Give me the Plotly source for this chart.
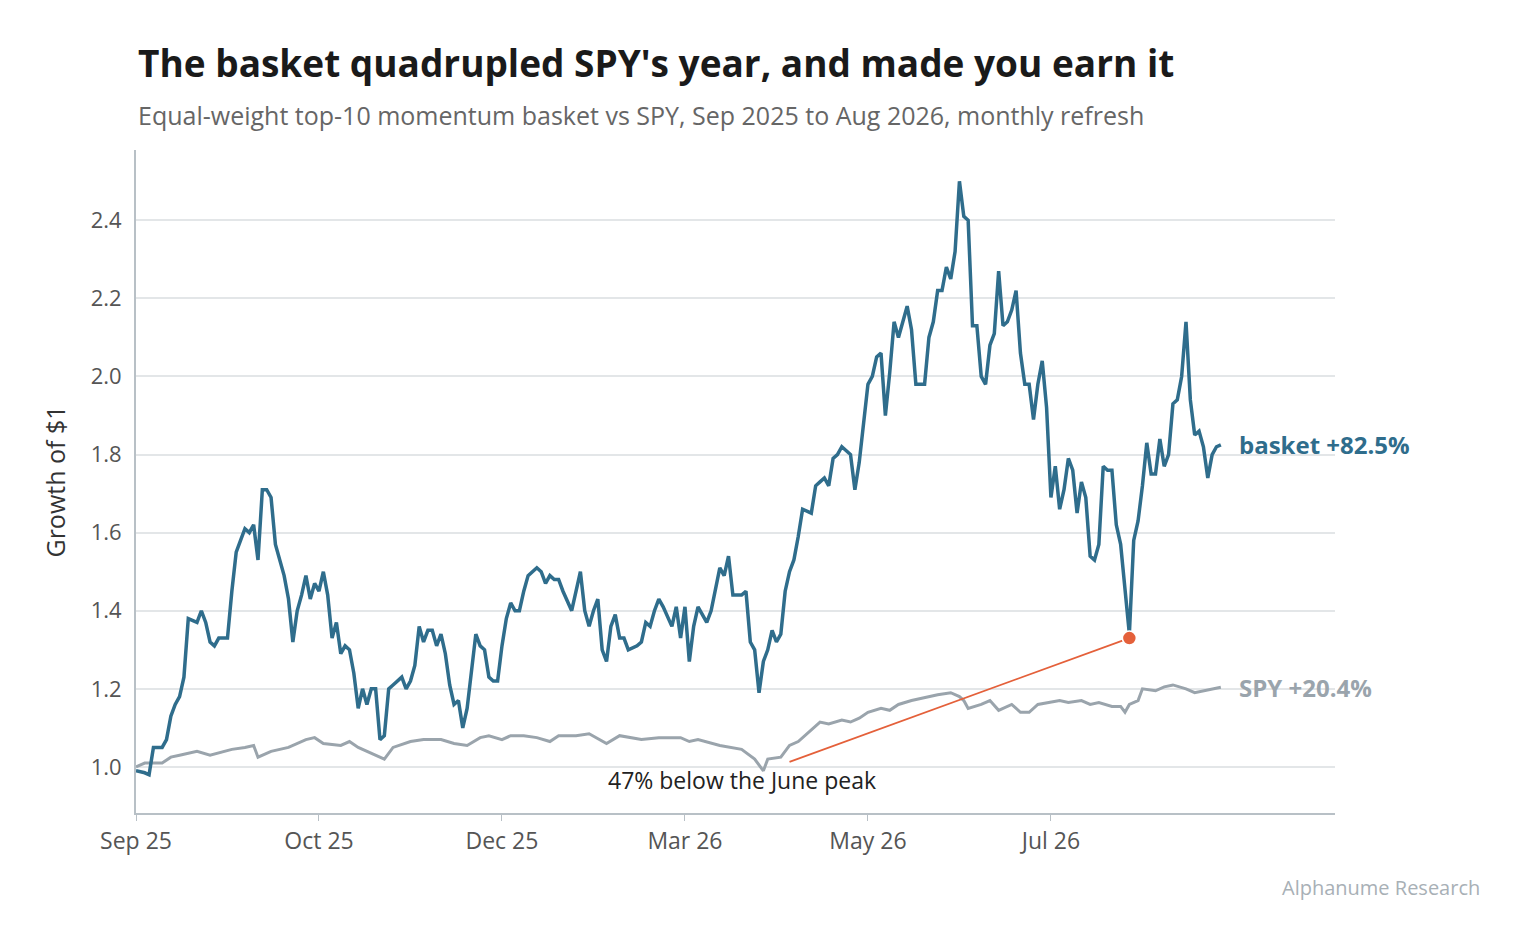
import plotly.graph_objects as go

# trading-day index and growth of $1
basket_day = [0, 2, 3, 4, 6, 7, 8, 9, 10, 11, 12, 14, 15, 16, 17, 18, 19, 21, 22, 23, 24, 25, 26, 27, 28, 29,
              30, 31, 32, 33, 34, 35, 36, 37, 38, 39, 40, 41, 42, 43, 44, 45, 46, 47, 48, 49, 50, 51, 52, 53,
              54, 55, 56, 57, 58, 59, 60, 61, 62, 63, 64, 65, 66, 67, 68, 69, 70, 71, 72, 73, 74, 75, 76, 77,
              78, 79, 80, 81, 82, 83, 84, 85, 86, 87, 88, 89, 90, 92, 93, 94, 95, 96, 97, 98, 100, 101, 102,
              103, 104, 105, 106, 107, 108, 109, 110, 111, 112, 113, 115, 116, 117, 118, 119, 120, 121, 123,
              124, 125, 126, 127, 128, 129, 131, 132, 133, 134, 135, 136, 137, 139, 140, 141, 142, 143, 144,
              145, 146, 147, 148, 149, 150, 151, 152, 153, 155, 156, 157, 158, 159, 160, 161, 162, 164, 165,
              166, 167, 168, 169, 170, 171, 172, 173, 174, 175, 176, 177, 178, 179, 180, 181, 182, 183, 184,
              185, 186, 187, 188, 189, 190, 191, 192, 193, 194, 195, 196, 197, 198, 199, 200, 201, 202, 203,
              204, 205, 206, 207, 208, 209, 210, 211, 212, 213, 214, 215, 216, 217, 218, 219, 220, 221, 222,
              223, 224, 225, 226, 227, 228, 229, 230, 231, 232, 233, 234, 235, 236, 237, 238, 239, 240, 241,
              242, 243, 244, 245, 246, 247, 248, 249]
basket = [0.99, 0.985, 0.98, 1.05, 1.05, 1.07, 1.13, 1.16, 1.18, 1.23, 1.38, 1.37, 1.40, 1.37, 1.32, 1.31, 1.33,
          1.33, 1.45, 1.55, 1.58, 1.61, 1.60, 1.62, 1.53, 1.71, 1.71, 1.69, 1.57, 1.53, 1.49, 1.43, 1.32, 1.40,
          1.44, 1.49, 1.43, 1.47, 1.45, 1.50, 1.44, 1.33, 1.37, 1.29, 1.31, 1.30, 1.24, 1.15, 1.20, 1.16, 1.20,
          1.20, 1.07, 1.08, 1.20, 1.21, 1.22, 1.23, 1.20, 1.22, 1.26, 1.36, 1.32, 1.35, 1.35, 1.31, 1.34, 1.29,
          1.21, 1.16, 1.17, 1.10, 1.15, 1.24, 1.34, 1.31, 1.30, 1.23, 1.22, 1.22, 1.31, 1.38, 1.42, 1.40, 1.40,
          1.45, 1.49, 1.51, 1.50, 1.47, 1.49, 1.48, 1.48, 1.45, 1.40, 1.45, 1.50, 1.40, 1.36, 1.40, 1.43, 1.30,
          1.27, 1.36, 1.39, 1.33, 1.33, 1.30, 1.31, 1.32, 1.37, 1.36, 1.40, 1.43, 1.41, 1.36, 1.41, 1.33, 1.41,
          1.27, 1.36, 1.41, 1.37, 1.40, 1.45, 1.51, 1.49, 1.54, 1.44, 1.44, 1.45, 1.32, 1.30, 1.19, 1.27, 1.30,
          1.35, 1.32, 1.34, 1.45, 1.50, 1.53, 1.59, 1.66, 1.65, 1.72, 1.73, 1.74, 1.72, 1.79, 1.80, 1.82, 1.80,
          1.71, 1.78, 1.89, 1.98, 2.00, 2.05, 2.06, 1.90, 2.01, 2.14, 2.10, 2.14, 2.18, 2.12, 1.98, 1.98, 1.98,
          2.10, 2.14, 2.22, 2.22, 2.28, 2.25, 2.32, 2.50, 2.41, 2.40, 2.13, 2.13, 2.00, 1.98, 2.08, 2.11, 2.27,
          2.13, 2.14, 2.17, 2.22, 2.06, 1.98, 1.98, 1.89, 1.98, 2.04, 1.92, 1.69, 1.77, 1.66, 1.71, 1.79, 1.76,
          1.65, 1.73, 1.69, 1.54, 1.53, 1.57, 1.77, 1.76, 1.76, 1.62, 1.57, 1.45, 1.34, 1.58, 1.63, 1.72, 1.83,
          1.75, 1.75, 1.84, 1.77, 1.80, 1.93, 1.94, 2.00, 2.14, 1.94, 1.85, 1.86, 1.82, 1.74, 1.80, 1.82, 1.825]

spy_day = [0, 2, 6, 8, 10, 14, 17, 22, 25, 27, 28, 31, 35, 39, 41, 43, 47, 49, 51, 55, 57, 59, 63, 66, 70, 73,
           76, 79, 81, 84, 86, 89, 92, 95, 97, 101, 104, 108, 111, 116, 120, 125, 127, 129, 134, 139, 142, 144,
           145, 148, 150, 152, 155, 157, 159, 162, 164, 166, 168, 171, 173, 175, 178, 180, 182, 184, 187, 189,
           190, 191, 194, 196, 198, 201, 203, 205, 207, 210, 212, 214, 217, 219, 221, 224, 226, 227, 228, 230,
           231, 234, 236, 238, 241, 243, 245, 249]
spy = [1.00, 1.01, 1.01, 1.025, 1.03, 1.04, 1.03, 1.045, 1.05, 1.055, 1.025, 1.04, 1.05, 1.07, 1.075, 1.06,
       1.055, 1.065, 1.05, 1.03, 1.02, 1.05, 1.065, 1.07, 1.07, 1.06, 1.055, 1.075, 1.08, 1.07, 1.08, 1.08,
       1.075, 1.065, 1.08, 1.08, 1.085, 1.06, 1.08, 1.07, 1.075, 1.075, 1.065, 1.07, 1.055, 1.045, 1.02, 0.99,
       1.02, 1.025, 1.055, 1.065, 1.095, 1.115, 1.11, 1.12, 1.115, 1.125, 1.14, 1.15, 1.145, 1.16, 1.17, 1.175,
       1.18, 1.185, 1.19, 1.18, 1.17, 1.15, 1.16, 1.17, 1.145, 1.16, 1.14, 1.14, 1.16, 1.165, 1.17, 1.165, 1.17,
       1.16, 1.165, 1.155, 1.155, 1.14, 1.16, 1.17, 1.20, 1.195, 1.205, 1.21, 1.20, 1.19, 1.195, 1.204]

tick_days = [0, 42, 84, 126, 168, 210]
tick_labels = ["Sep 25", "Oct 25", "Dec 25", "Mar 26", "May 26", "Jul 26"]

trough_day, trough_val = 228, 1.33
note_day, note_val = 150, 1.013

BLUE = "#2f6d8c"
GREY = "#9aa4ac"
RED = "#e4603a"
FONT = "Open Sans, Noto Sans, sans-serif"

fig = go.Figure()
fig.add_trace(go.Scatter(x=spy_day, y=spy, mode="lines", line=dict(color=GREY, width=3), hoverinfo="skip"))
fig.add_trace(go.Scatter(x=basket_day, y=basket, mode="lines", line=dict(color=BLUE, width=3.5)))
fig.add_trace(go.Scatter(x=[note_day, trough_day], y=[note_val, trough_val], mode="lines",
                         line=dict(color=RED, width=1.8)))
fig.add_trace(go.Scatter(x=[trough_day], y=[trough_val], mode="markers",
                         marker=dict(color=RED, size=14, line=dict(color="white", width=1.5))))

fig.add_annotation(x=basket_day[-1], y=basket[-1], text="<b>basket +82.5%</b>", showarrow=False,
                   xanchor="left", xshift=16, font=dict(color=BLUE, size=24))
fig.add_annotation(x=spy_day[-1], y=spy[-1], text="<b>SPY +20.4%</b>", showarrow=False,
                   xanchor="left", xshift=16, font=dict(color=GREY, size=24))
fig.add_annotation(x=139, y=0.967, text="47% below the June peak", showarrow=False,
                   font=dict(color="#222", size=23))
fig.add_annotation(xref="paper", yref="paper", x=0, y=1.1327, xanchor="left", yanchor="middle",
                   text="<b>The basket quadrupled SPY's year, and made you earn it</b>", showarrow=False,
                   font=dict(size=37, color="#1a1a1a"))
fig.add_annotation(xref="paper", yref="paper", x=0, y=1.0528, xanchor="left", yanchor="middle",
                   text="Equal-weight top-10 momentum basket vs SPY, Sep 2025 to Aug 2026, monthly refresh",
                   showarrow=False, font=dict(size=25, color="#666"))
fig.add_annotation(xref="paper", yref="paper", x=1.1226, y=-0.113, text="Alphanume Research",
                   showarrow=False, xanchor="right", yanchor="middle", font=dict(color="#a8b0b6", size=20))

fig.update_layout(
    width=1527, height=944, showlegend=False,
    plot_bgcolor="white", paper_bgcolor="white",
    font=dict(family=FONT, color="#555"),
    margin=dict(l=128, r=200, t=142, b=139),
)
fig.update_xaxes(range=[0, 275.2], tickvals=tick_days, ticktext=tick_labels, showgrid=False,
                 showline=True, linecolor="#b8c0c6", linewidth=2, ticks="outside", ticklen=6,
                 tickcolor="#b8c0c6", tickfont=dict(size=23, color="#555"), zeroline=False)
fig.update_yaxes(range=[0.882, 2.58], tickvals=[1.0, 1.2, 1.4, 1.6, 1.8, 2.0, 2.2, 2.4],
                 ticktext=["1.0", "1.2", "1.4", "1.6", "1.8", "2.0", "2.2", "2.4"],
                 showgrid=True, gridcolor="#e3e6e8", gridwidth=1.5, showline=True,
                 linecolor="#b8c0c6", linewidth=2, zeroline=False, ticks="", ticklabelstandoff=8,
                 tickfont=dict(size=22, color="#555"),
                 title=dict(text="Growth of $1", font=dict(size=25, color="#333"), standoff=18))

fig.write_html("out.html")
